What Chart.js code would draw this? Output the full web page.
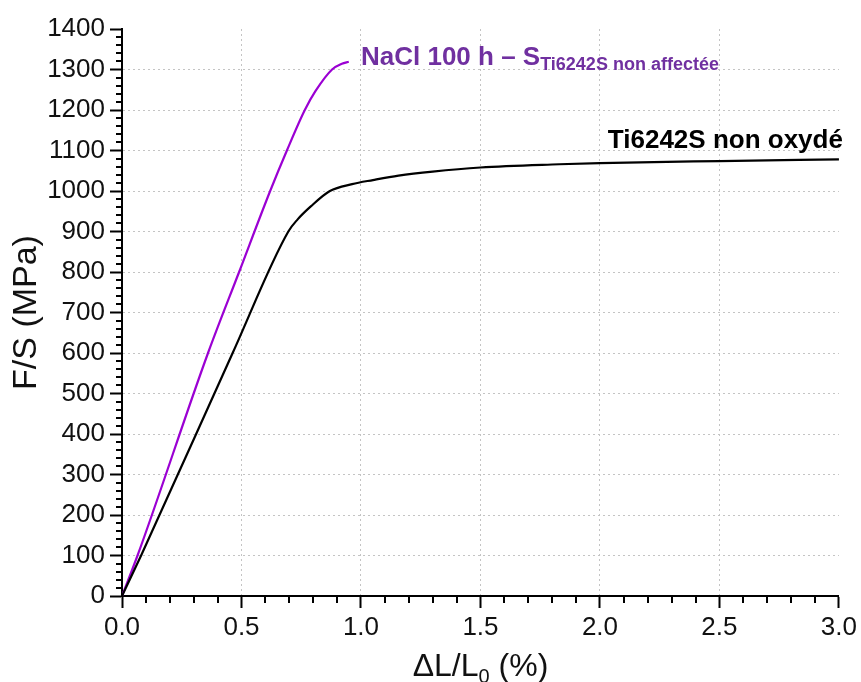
<!DOCTYPE html>
<html>
<head>
<meta charset="utf-8">
<script src="https://cdn.jsdelivr.net/npm/chart.js@4.4.0/dist/chart.umd.min.js"></script>
<style>
  html, body { margin: 0; padding: 0; background: #fff; }
  #wrap { width: 861px; height: 682px; }
</style>
</head>
<body>
<div id="wrap"><canvas id="stressChart" width="861" height="682"></canvas></div>
<script>
// Ti6242S non oxydé (strain %, stress MPa)
const tiStrain = [0, 0.08, 0.463, 0.696, 0.735, 0.79, 0.87, 0.963, 1.05, 1.157, 1.3, 1.5, 1.83, 2.0, 2.5, 3.0];
const tiStress = [0, 100, 600, 900, 930, 962, 1000, 1017, 1027, 1038, 1048, 1058, 1066, 1069, 1074, 1078];

// NaCl 100 h
const naclStrain = [0, 0.065, 0.36, 0.49, 0.62, 0.69, 0.765, 0.81, 0.879, 0.92, 0.949];
const naclStress = [0, 100, 600, 800, 1000, 1100, 1200, 1247, 1300, 1314, 1319];

const xMajorTicks = [0, 0.5, 1.0, 1.5, 2.0, 2.5, 3.0];
const yMajorTicks = [0, 100, 200, 300, 400, 500, 600, 700, 800, 900, 1000, 1100, 1200, 1300, 1400];

// label anchors (data coordinates)
const naclLabelAt = [1.0, 1312];
const tiLabelAt = [2.033, 1106];

const FONT = "'Liberation Sans', Arial, sans-serif";

const isMajor = (v, list) => list.some(m => Math.abs(m - v) < 1e-6);

const toPoints = (xs, ys) => xs.map((x, i) => ({ x: x, y: ys[i] }));

const extras = {
  id: 'extras',
  afterDraw(chart) {
    const { ctx, scales: { x, y } } = chart;
    ctx.save();
    // minor ticks
    ctx.strokeStyle = '#000';
    ctx.lineWidth = 2;
    ctx.beginPath();
    x.ticks.forEach(t => {
      if (isMajor(t.value, xMajorTicks)) return;
      const px = Math.round(x.getPixelForValue(t.value));
      ctx.moveTo(px, x.top);
      ctx.lineTo(px, x.top + 7);
    });
    y.ticks.forEach(t => {
      if (isMajor(t.value, yMajorTicks)) return;
      const py = Math.round(y.getPixelForValue(t.value));
      ctx.moveTo(y.right, py);
      ctx.lineTo(y.right - 6, py);
    });
    ctx.stroke();

    // x title with subscript
    ctx.fillStyle = '#111';
    ctx.textBaseline = 'alphabetic';
    const big = '32px ' + FONT, small = '20px ' + FONT;
    const parts = [['\u0394L/L', big, 0], ['0', small, 7], [' (%)', big, 0]];
    let total = 0;
    parts.forEach(p => { ctx.font = p[1]; total += ctx.measureText(p[0]).width; });
    let cx = (chart.chartArea.left + chart.chartArea.right) / 2 - total / 2;
    const baseY = 676;
    parts.forEach(p => {
      ctx.font = p[1];
      ctx.fillText(p[0], cx, baseY + p[2]);
      cx += ctx.measureText(p[0]).width;
    });

    // curve labels
    let lx = x.getPixelForValue(naclLabelAt[0]);
    let ly = y.getPixelForValue(naclLabelAt[1]);
    ctx.fillStyle = '#7030A0';
    ctx.font = 'bold 26px ' + FONT;
    const main = 'NaCl 100 h \u2013 S';
    ctx.fillText(main, lx, ly);
    lx += ctx.measureText(main).width;
    ctx.font = 'bold 18px ' + FONT;
    ctx.fillText('Ti6242S non affect\u00e9e', lx, ly + 5);

    ctx.fillStyle = '#000';
    ctx.font = 'bold 26px ' + FONT;
    ctx.fillText('Ti6242S non oxyd\u00e9', x.getPixelForValue(tiLabelAt[0]), y.getPixelForValue(tiLabelAt[1]));
    ctx.restore();
  }
};

const ctx = document.getElementById('stressChart').getContext('2d');

new Chart(ctx, {
  type: 'scatter',
  data: {
    datasets: [{
      label: 'Ti6242S non oxydé',
      data: toPoints(tiStrain, tiStress),
      showLine: true,
      borderColor: '#000000',
      borderWidth: 2.2,
      pointRadius: 0,
      cubicInterpolationMode: 'monotone'
    }, {
      label: 'NaCl 100 h',
      data: toPoints(naclStrain, naclStress),
      showLine: true,
      borderColor: '#9B00D3',
      borderWidth: 2.2,
      pointRadius: 0,
      cubicInterpolationMode: 'monotone'
    }]
  },
  options: {
    responsive: false,
    animation: false,
    devicePixelRatio: 1,
    layout: { padding: { top: 29, right: 19, left: 0, bottom: 0 } },
    plugins: {
      legend: { display: false },
      tooltip: { enabled: false }
    },
    scales: {
      x: {
        type: 'linear',
        min: 0,
        max: 3,
        afterFit: s => { s.height = 86; },
        ticks: {
          stepSize: 0.1,
          autoSkip: false,
          maxRotation: 0,
          padding: 4,
          color: '#111',
          font: { family: FONT, size: 26 },
          callback: v => isMajor(v, xMajorTicks) ? v.toFixed(1) : ''
        },
        grid: {
          color: c => (c.tick && isMajor(c.tick.value, xMajorTicks) && c.tick.value > 0 && c.tick.value < 3) ? '#c4c4c4' : 'rgba(0,0,0,0)',
          lineWidth: 1,
          tickColor: c => (c.tick && isMajor(c.tick.value, xMajorTicks)) ? '#000' : 'rgba(0,0,0,0)',
          tickLength: 12,
          tickWidth: 2
        },
        border: { color: '#000', width: 2, dash: [2, 3] }
      },
      y: {
        type: 'linear',
        min: 0,
        max: 1400,
        afterFit: s => { s.width = 122; },
        ticks: {
          stepSize: 20,
          autoSkip: false,
          padding: 5,
          color: '#111',
          font: { family: FONT, size: 26 },
          callback: v => isMajor(v, yMajorTicks) ? String(v) : ''
        },
        grid: {
          color: c => (c.tick && isMajor(c.tick.value, yMajorTicks) && c.tick.value > 0 && c.tick.value < 1400) ? '#c4c4c4' : 'rgba(0,0,0,0)',
          lineWidth: 1,
          tickColor: c => (c.tick && isMajor(c.tick.value, yMajorTicks)) ? '#000' : 'rgba(0,0,0,0)',
          tickLength: 12,
          tickWidth: 2
        },
        border: { color: '#000', width: 2, dash: [2, 3] },
        title: {
          display: true,
          text: 'F/S (MPa)',
          color: '#111',
          font: { family: FONT, size: 34 },
          padding: { top: 6, bottom: 0 }
        }
      }
    }
  },
  plugins: [extras]
});
</script>
</body>
</html>
